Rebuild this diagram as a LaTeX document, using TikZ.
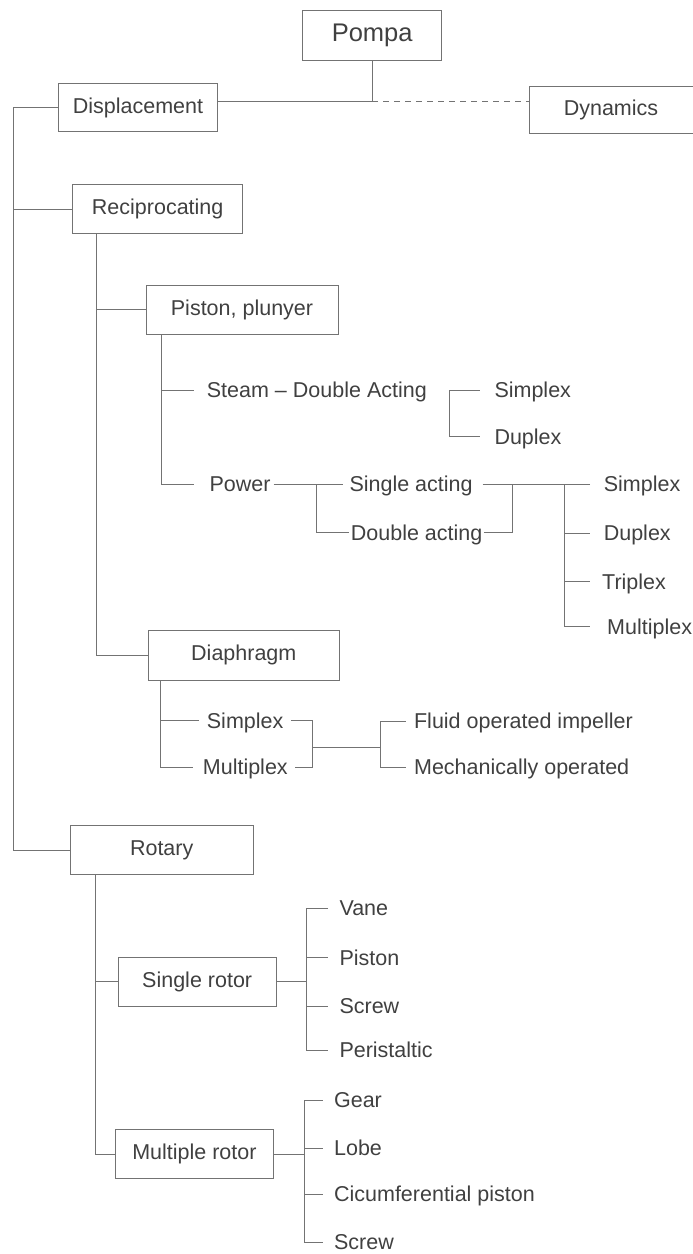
\documentclass[tikz,border=0pt]{standalone}
\usepackage{fontspec}
\setmainfont{Liberation Sans}
\begin{document}
\begin{tikzpicture}[x=1pt,y=-1pt,
  line width=1pt,
  color=black!55,
  box/.style={draw=black!55,line width=1pt,rectangle,inner sep=0pt,minimum height=48.5pt,text=black!75,font=\fontsize{21.5}{26}\selectfont},
  leaf/.style={inner sep=0pt,anchor=west,text height=16pt,text depth=1pt,text=black!75,font=\fontsize{21.5}{26}\selectfont},
  dashline/.style={dash pattern=on 6pt off 5pt}]
\useasboundingbox (0,0) rectangle (693,1254);
% boxes
\node[box,minimum width=139pt,minimum height=50pt,font=\fontsize{25.5}{30}\selectfont] (pompa) at (372.2,35) {Pompa};
\node[box,minimum width=158.6pt] (disp) at (138,107.5) {Displacement};
\node[box,minimum width=180pt,minimum height=47.3pt] (dyn) at (619,110.3) {\hspace*{-16pt}Dynamics};
\node[box,minimum width=170pt] (recip) at (157.7,209.2) {Reciprocating};
\node[box,minimum width=192pt,minimum height=49pt] (piston) at (242,309.5) {Piston, plunyer};
\node[box,minimum width=191pt,minimum height=49.3pt] (diaph) at (243.8,655.4) {Diaphragm};
\node[box,minimum width=183.3pt] (rotary) at (161.7,850.2) {Rotary};
\node[box,minimum width=157.7pt] (single) at (197.2,981.9) {Single rotor};
\node[box,minimum width=157.2pt] (multi) at (194.4,1154.2) {Multiple rotor};
% leaves
\node[leaf] (steam) at (206.4,390) {Steam -- Double Acting};
\node[leaf] (ss1) at (494,390) {Simplex};
\node[leaf] (ss2) at (494,436.7) {Duplex};
\node[leaf] (power) at (209,484) {Power};
\node[leaf] (sa) at (349,484) {Single acting};
\node[leaf] (da) at (350.4,532.5) {Double acting};
\node[leaf] (p1) at (603.3,484) {Simplex};
\node[leaf] (p2) at (603.3,533.3) {Duplex};
\node[leaf] (p3) at (601.7,581.7) {Triplex};
\node[leaf] (p4) at (606.7,626.7) {Multiplex};
\node[leaf] (d1) at (206.4,720.7) {Simplex};
\node[leaf] (d2) at (202.4,767) {Multiplex};
\node[leaf] (f1) at (413.6,721) {Fluid operated impeller};
\node[leaf] (f2) at (413.6,767) {Mechanically operated};
\node[leaf] (v1) at (339,908) {Vane};
\node[leaf] (v2) at (339,957.7) {Piston};
\node[leaf] (v3) at (339,1006) {Screw};
\node[leaf] (v4) at (339,1050) {Peristaltic};
\node[leaf] (g1) at (333.6,1100) {Gear};
\node[leaf] (g2) at (333.6,1148) {Lobe};
\node[leaf] (g3) at (333.6,1194) {Cicumferential piston};
\node[leaf] (g4) at (333.6,1242.3) {Screw};
% helper coordinates
\coordinate (j) at (372.2,101);
\coordinate (L) at (13,0);
\coordinate (RV) at (96.5,0);
\coordinate (PV) at (161.3,0);
\coordinate (SB) at (449.4,0);
\coordinate (PW) at (316,0);
\coordinate (DX) at (512.7,0);
\coordinate (PS) at (564,0);
\coordinate (DV) at (160.5,0);
\coordinate (DB) at (312.9,0);
\coordinate (dm) at (312.9,747);
\coordinate (FB) at (380.9,0);
\coordinate (RR) at (95,0);
\coordinate (SV) at (306.7,0);
\coordinate (MV) at (304,0);
% top
\draw (pompa.south) -- (j);
\draw (disp.east |- j) -- (j);
\draw[dashline] (j) -- (dyn.west |- j);
% main spine
\draw (disp.west) -- (disp.west -| L) |- (rotary.west);
\draw (recip.west) -- (recip.west -| L);
% reciprocating
\draw (recip.south -| RV) |- (diaph.west);
\draw (piston.west) -- (piston.west -| RV);
% piston
\draw (piston.south -| PV) |- ([xshift=-14.6pt]power.west);
\draw (PV |- steam.west) -- ([xshift=-12pt]steam.west);
\draw ([xshift=-14.5pt]ss1.west) -- (ss1.west -| SB) |- ([xshift=-14.5pt]ss2.west);
\draw ([xshift=2.6pt]power.east) -- ([xshift=-6.5pt]sa.west);
\draw (power.east -| PW) |- ([xshift=-1.5pt]da.west);
\draw ([xshift=9.5pt]sa.east) -- (sa.east -| PS);
\draw ([xshift=1pt]da.east) -| (sa.east -| DX);
\draw ([xshift=-13.3pt]p1.west) -- (p1.west -| PS) |- ([xshift=-16.7pt]p4.west);
\draw (PS |- p2.west) -- ([xshift=-13.3pt]p2.west);
\draw (PS |- p3.west) -- ([xshift=-11.7pt]p3.west);
% diaphragm
\draw (diaph.south -| DV) |- ([xshift=-9.3pt]d2.west);
\draw (DV |- d1.west) -- ([xshift=-7.6pt]d1.west);
\draw ([xshift=7pt]d1.east) -- (d1.east -| DB) |- ([xshift=7pt]d2.east);
\draw (dm) -- (dm -| FB);
\draw ([xshift=-8pt]f1.west) -- (f1.west -| FB) |- ([xshift=-8pt]f2.west);
% rotary
\draw (rotary.south -| RR) |- (multi.west);
\draw (single.west) -- (single.west -| RR);
\draw (single.east) -- (single.east -| SV);
\draw ([xshift=-11pt]v1.west) -- (v1.west -| SV) |- ([xshift=-11pt]v4.west);
\draw (SV |- v2.west) -- ([xshift=-11pt]v2.west);
\draw (SV |- v3.west) -- ([xshift=-11pt]v3.west);
\draw (multi.east) -- (multi.east -| MV);
\draw ([xshift=-11pt]g1.west) -- (g1.west -| MV) |- ([xshift=-11pt]g4.west);
\draw (MV |- g2.west) -- ([xshift=-11pt]g2.west);
\draw (MV |- g3.west) -- ([xshift=-11pt]g3.west);
\end{tikzpicture}
\end{document}
